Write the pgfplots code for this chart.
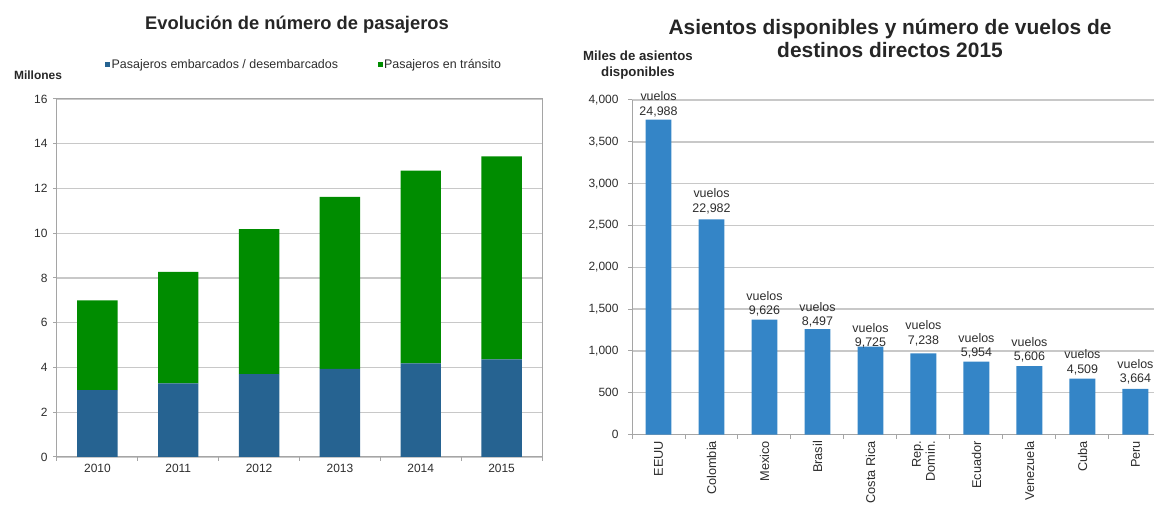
\documentclass[border=0pt]{standalone}
\usepackage{fontspec}
\setmainfont{Liberation Sans}
\usepackage{pgfplots}
\pgfplotsset{compat=1.18}
\definecolor{lblue}{RGB}{38,99,145}
\definecolor{lgreen}{RGB}{0,140,0}
\definecolor{rblue}{RGB}{52,133,199}
\definecolor{gridc}{RGB}{200,200,200}
\definecolor{axc}{RGB}{165,165,165}
\definecolor{txt}{RGB}{45,45,45}
\tikzset{lbl/.style={font=\fontsize{12.5}{14.5}\selectfont, text=txt, align=center, anchor=south, inner sep=0pt}}
\begin{document}
\begin{tikzpicture}
\pgfplotsset{
  common/.style={
    scale only axis,
    axis line style={axc, line width=1bp},
    ymajorgrids, grid style={gridc, line width=1.4bp},
    tick style={axc, line width=1bp},
    major tick length=4bp, tick align=outside, tick pos=left,
    /pgf/number format/assume math mode=true,
    ticklabel style={font=\fontsize{12}{14}\selectfont, text=txt},
  }
}
% ---------------- left chart ----------------
\begin{axis}[common,
  at={(57bp,49bp)}, anchor=south west, width=485bp, height=358bp,
  ybar stacked, bar width=0.5,
  xmin=-0.5, xmax=5.5, ymin=0, ymax=16, ytick={0,2,...,16},
  yticklabels={0,2,4,6,8,10,12,14,16},
  xtick={-0.5,0.5,...,5.5}, xticklabels={},
  extra x ticks={0,1,2,3,4,5},
  extra x tick labels={2010,2011,2012,2013,2014,2015},
  extra x tick style={major tick length=0pt, xticklabel style={yshift=-4bp}},
  yticklabel style={xshift=-2bp},
  legend columns=2,
  legend style={at={(0.509,1.095)}, anchor=center, draw=none, fill=none,
    font=\fontsize{12.5}{14}\selectfont, text=txt,
    /tikz/every even column/.append style={column sep=38bp},
    nodes={inner sep=1.5bp}},
  legend image code/.code={\fill[#1] (0bp,-2.5bp) rectangle (5bp,2.5bp);},
]
\addplot[fill=lblue, draw=none] coordinates {(0,2.99) (1,3.29) (2,3.70) (3,3.94) (4,4.18) (5,4.36)};
\addplot[fill=lgreen, draw=none] coordinates {(0,4.01) (1,4.98) (2,6.48) (3,7.68) (4,8.62) (5,9.08)};
\legend{Pasajeros embarcados / desembarcados, Pasajeros en tránsito}
\end{axis}
\node[font=\bfseries\fontsize{18.4}{21}\selectfont, text=black!85] at (297bp,481bp) {Evolución de número de pasajeros};
\node[font=\bfseries\fontsize{12}{14}\selectfont, text=black!85] at (38bp,431bp) {Millones};
% ---------------- right chart ----------------
\begin{axis}[common,
  at={(632bp,71.5bp)}, anchor=south west, width=522bp, height=334.5bp,
  axis x line*=bottom, axis y line*=left, clip=false,
  ybar, bar width=0.49,
  xmin=-0.5, xmax=9.35, ymin=0, ymax=4000,
  ytick={0,500,...,4000},
  yticklabels={0,500,{1,000},{1,500},{2,000},{2,500},{3,000},{3,500},{4,000}},
  yticklabel style={xshift=-6bp},
  xtick={-0.5,0.5,...,8.5}, xticklabels={},
  extra x ticks={0,1,2,3,4,5,6,7,8,9},
  extra x tick labels={EEUU,Colombia,Mexico,Brasil,Costa Rica,{Rep.\\Domin.},Ecuador,Venezuela,Cuba,Peru},
  extra x tick style={major tick length=0pt,
    xticklabel style={font=\fontsize{12.8}{14}\selectfont, yshift=-3bp, rotate=90, anchor=east, align=right}},
]
\addplot[fill=rblue, draw=none] coordinates {(0,3765) (1,2572) (2,1375) (3,1260) (4,1050) (5,970) (6,870) (7,817) (8,668) (9,545)};
\node[lbl, yshift=2.8bp] at (axis cs:0,3765) {vuelos\\24,988};
\node[lbl, yshift=5.5bp] at (axis cs:1,2572) {vuelos\\22,982};
\node[lbl, yshift=2.8bp] at (axis cs:2,1375) {vuelos\\9,626};
\node[lbl, yshift=1.5bp] at (axis cs:3,1260) {vuelos\\8,497};
\node[lbl, yshift=-1.8bp] at (axis cs:4,1050) {vuelos\\9,725};
\node[lbl, yshift=7.5bp] at (axis cs:5,970) {vuelos\\7,238};
\node[lbl, yshift=3.5bp] at (axis cs:6,870) {vuelos\\5,954};
\node[lbl, yshift=3.5bp] at (axis cs:7,817) {vuelos\\5,606};
\node[lbl, yshift=3.5bp] at (axis cs:8,668) {vuelos\\4,509};
\node[lbl, yshift=4.2bp] at (axis cs:9,545) {vuelos\\3,664};
\end{axis}
\node[font=\bfseries\fontsize{21}{23}\selectfont, text=black!85, align=center] at (890bp,467.5bp) {Asientos disponibles y número de vuelos de\\destinos directos 2015};
\node[font=\bfseries\fontsize{13.3}{16}\selectfont, text=black!85, align=center] at (638bp,441bp) {Miles de asientos\\disponibles};
\pgfresetboundingbox
\path (0,0) rectangle (1154bp,506bp);
\end{tikzpicture}
\end{document}
